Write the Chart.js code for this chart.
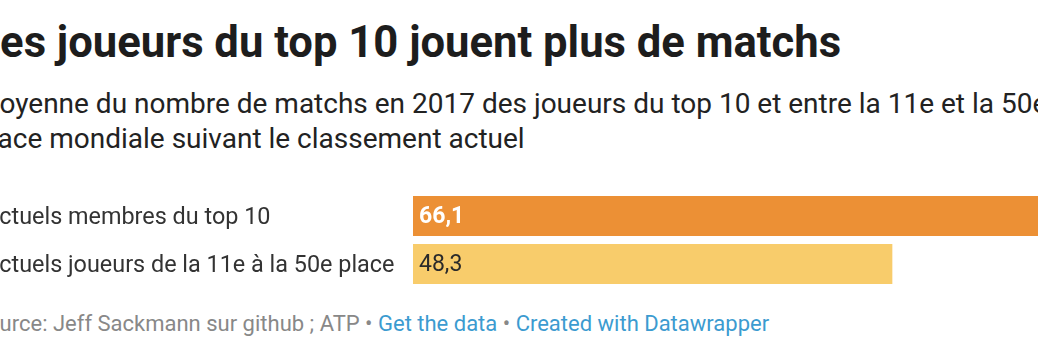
<!DOCTYPE html>
<html>
<head>
<meta charset="utf-8">
<script src="https://cdn.jsdelivr.net/npm/chart.js@4/dist/chart.umd.min.js"></script>
<style>
  html, body { margin: 0; padding: 0; background: #fff; overflow: hidden; }
  body { width: 1038px; height: 354px; position: relative; font-family: Roboto, sans-serif; }
  #title { position: absolute; left: -23.5px; top: 21px; font-size: 43.6px; line-height: 44px; font-weight: 700; color: #1d1d1d; white-space: nowrap; }
  #subtitle { position: absolute; left: -25px; top: 86px; font-size: 28px; line-height: 35px; color: #222; white-space: nowrap; }
  #chartBox { position: absolute; left: -16px; top: 192px; width: 1085px; height: 96px; }
  #footer { position: absolute; left: -26px; top: 313px; font-size: 22px; line-height: 22px; color: #888; white-space: nowrap; }
  #footer a { color: #3c9bd0; text-decoration: none; }
</style>
</head>
<body>
<div id="title">Les joueurs du top 10 jouent plus de matchs</div>
<div id="subtitle">Moyenne du nombre de matchs en 2017 des joueurs du top 10 et entre la 11e et la 50e<br>place mondiale suivant le classement actuel</div>
<div id="chartBox"><canvas id="barChart" width="1085" height="96"></canvas></div>
<div id="footer">Source: Jeff Sackmann sur github ; ATP • <a>Get the data</a> • <a>Created with Datawrapper</a></div>
<script>
// Categories and values
const categories = ['Actuels membres du top 10', 'Actuels joueurs de la 11e à la 50e place'];
const matchAverages = [66.1, 48.3];
const valueLabels = ['66,1', '48,3'];
const barColors = ['#ec9035', '#f8cc6b'];
const labelColors = ['#ffffff', '#2a2a2a'];

// Draws the value text inside each bar, near its start
const valueLabelPlugin = {
    id: 'valueLabels',
    afterDatasetsDraw(chart) {
        const ctx = chart.ctx;
        const meta = chart.getDatasetMeta(0);
        ctx.save();
        ctx.textBaseline = 'middle';
        ctx.textAlign = 'left';
        meta.data.forEach((bar, i) => {
            ctx.font = (i === 0 ? '700 ' : '400 ') + '23px Roboto';
            ctx.fillStyle = labelColors[i];
            ctx.fillText(valueLabels[i], bar.base + 6, bar.y + 1);
        });
        ctx.restore();
    }
};

new Chart(document.getElementById('barChart').getContext('2d'), {
    type: 'bar',
    data: {
        labels: categories,
        datasets: [{
            data: matchAverages,
            backgroundColor: barColors,
            barPercentage: 40 / 48,
            categoryPercentage: 1
        }]
    },
    options: {
        indexAxis: 'y',
        responsive: false,
        animation: false,
        layout: { padding: 0 },
        plugins: { legend: { display: false }, tooltip: { enabled: false } },
        scales: {
            x: { display: false, min: 0, max: 66.1 },
            y: {
                grid: { display: false },
                border: { display: false },
                ticks: {
                    crossAlign: 'far',
                    padding: 0,
                    labelOffset: 2,
                    color: '#333',
                    font: { family: 'Roboto', size: 23.4 }
                },
                afterFit(axis) {
                    axis.width = 429;
                    // no extra room above/below the two rows
                    axis.paddingTop = 0;
                    axis.paddingBottom = 0;
                }
            }
        }
    },
    plugins: [valueLabelPlugin]
});
</script>
</body>
</html>
